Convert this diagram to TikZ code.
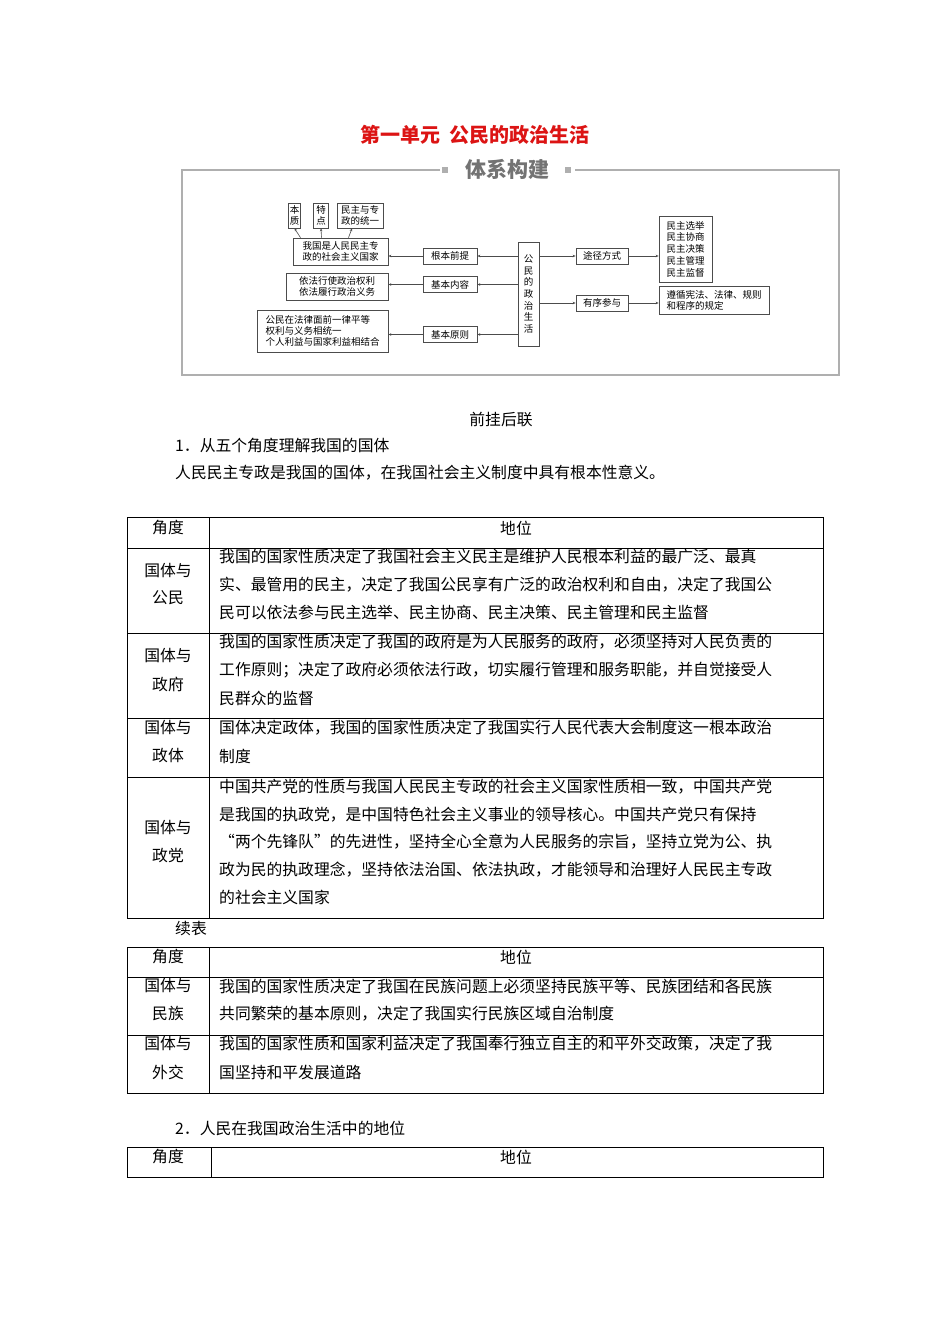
\documentclass[tikz,border=0pt]{standalone}
\usepackage{fontspec}
\setmainfont{Noto Sans CJK SC}
\usetikzlibrary{arrows.meta}
\definecolor{ttl}{RGB}{220,20,20}
\definecolor{frm}{RGB}{175,175,175}
\tikzset{
 bx/.style={draw=black!70,line width=0.7pt,inner sep=1.5pt,font=\fontsize{9.5}{11}\selectfont,align=center},
 ar/.style={draw=black!70,line width=0.6pt,-{Stealth[length=3pt,width=2.5pt]}},
 tx/.style={anchor=west,inner sep=0pt,font=\fontsize{15.8}{18}\selectfont},
 tc/.style={inner sep=0pt,font=\fontsize{15.8}{18}\selectfont},
 tl/.style={draw=black,line width=0.7pt}
}
\begin{document}
\begin{tikzpicture}[x=1pt,y=-1pt]
\useasboundingbox[fill=white] (0,0) rectangle (950,1344);
% title
\node[tc,text=ttl,font=\fontsize{20}{22}\selectfont\bfseries] (title) at (475,135) {第一单元\ \ 公民的政治生活};
% frame
\draw[frm,line width=1.2pt] (440,170) -- (182,170) -- (182,375) -- (839,375) -- (839,170) -- (575,170);
\fill[frm] (442,167) rectangle (448,173);
\fill[frm] (565,167) rectangle (571,173);
\node[tc,text=black!55,font=\fontsize{21}{23}\selectfont\bfseries] (tixi) at (507,169) {体系构建};
% diagram nodes
\node[bx,minimum width=12pt,minimum height=25pt] (bz) at (294.5,215.5) {本\\质};
\node[bx,minimum width=15pt,minimum height=25pt] (td) at (321,215.5) {特\\点};
\node[bx,minimum width=46pt,minimum height=25pt] (mz) at (360,215.5) {民主与专\\政的统一};
\node[bx,minimum width=95pt,minimum height=27pt] (wg) at (340.5,251.5) {我国是人民民主专\\政的社会主义国家};
\node[bx,minimum width=102pt,minimum height=27pt] (yf) at (337,286.5) {依法行使政治权利\\依法履行政治义务};
\node[bx,minimum width=131pt,minimum height=42pt,align=left] (gm) at (322.5,331) {公民在法律面前一律平等\\权利与义务相统一\\个人利益与国家利益相结合};
\node[bx,minimum width=54pt,minimum height=16pt] (gb) at (450,256) {根本前提};
\node[bx,minimum width=54pt,minimum height=16pt] (jn) at (450,284.5) {基本内容};
\node[bx,minimum width=54pt,minimum height=16pt] (jy) at (450,334.5) {基本原则};
\node[bx,minimum width=21pt,minimum height=104pt,font=\fontsize{9.5}{11.6}\selectfont] (gs) at (528.5,294) {公\\民\\的\\政\\治\\生\\活};
\node[bx,minimum width=52pt,minimum height=16pt] (tj) at (602,256) {途径方式};
\node[bx,minimum width=52pt,minimum height=16pt] (yx) at (602,303) {有序参与};
\node[bx,minimum width=53pt,minimum height=66pt,align=left,font=\fontsize{9.5}{11.8}\selectfont] (mx) at (685.5,249) {民主选举\\民主协商\\民主决策\\民主管理\\民主监督};
\node[bx,minimum width=110pt,minimum height=28pt,align=left] (zx) at (714,300) {遵循宪法、法律、规则\\和程序的规定};
% connectors
\draw[ar] (gs.west |- gb) -- (gb);
\draw[ar] (gs.west |- jn) -- (jn);
\draw[ar] (gs.west |- jy) -- (jy);
\draw[ar] (gb) -- (gb -| wg.east);
\draw[ar] (jn) -- (jn -| yf.east);
\draw[ar] (jy) -- (jy -| gm.east);
\draw[ar] (gs.east |- tj) -- (tj);
\draw[ar] (gs.east |- yx) -- (yx);
\draw[ar] (tj) -- (tj -| mx.west);
\draw[ar] (yx) -- (yx -| zx.west);
\draw[ar] ([xshift=-40pt]wg.north) -- (bz.south);
\draw[ar] ([xshift=-19pt]wg.north) -- (td.south);
\draw[ar] ([xshift=8pt]wg.north) -- ([xshift=-8pt]mz.south);
% text
\node[tc] (qg) at (501,420) {前挂后联};
\node[tx] (h1) at (175,446) {1．从五个角度理解我国的国体};
\node[tx] (p1) at (175,473) {人民民主专政是我国的国体，在我国社会主义制度中具有根本性意义。};
% table 1
\draw[tl] (127,517) rectangle (823,918);
\draw[tl] (209,517) -- (209,918);
\foreach \y in {548,633,718,777} \draw[tl] (127,\y) -- (823,\y);
\node[tc] (a0) at (168,528) {角度};
\node[tc] (b0) at (516,528) {地位};
\node[tc] (a1) at (168,571) {国体与};
\node[tc] (a1b) at (168,598) {公民};
\node[tx] at (219,557) {我国的国家性质决定了我国社会主义民主是维护人民根本利益的最广泛、最真};
\node[tx] at (219,585) {实、最管用的民主，决定了我国公民享有广泛的政治权利和自由，决定了我国公};
\node[tx] at (219,612) {民可以依法参与民主选举、民主协商、民主决策、民主管理和民主监督};
\node[tc] (a2) at (168,656) {国体与};
\node[tc] (a2b) at (168,684) {政府};
\node[tx] at (219,642) {我国的国家性质决定了我国的政府是为人民服务的政府，必须坚持对人民负责的};
\node[tx] at (219,670) {工作原则；决定了政府必须依法行政，切实履行管理和服务职能，并自觉接受人};
\node[tx] at (219,698) {民群众的监督};
\node[tc] (a3) at (168,728) {国体与};
\node[tc] (a3b) at (168,756) {政体};
\node[tx] at (219,728) {国体决定政体，我国的国家性质决定了我国实行人民代表大会制度这一根本政治};
\node[tx] at (219,756) {制度};
\node[tc] (a4) at (168,828) {国体与};
\node[tc] (a4b) at (168,856) {政党};
\node[tx] at (219,787) {中国共产党的性质与我国人民民主专政的社会主义国家性质相一致，中国共产党};
\node[tx] at (219,815) {是我国的执政党，是中国特色社会主义事业的领导核心。中国共产党只有保持};
\node[tx] at (219,842) {“两个先锋队”的先进性，坚持全心全意为人民服务的宗旨，坚持立党为公、执};
\node[tx] at (219,870) {政为民的执政理念，坚持依法治国、依法执政，才能领导和治理好人民民主专政};
\node[tx] at (219,897) {的社会主义国家};
\node[tx] (xb) at (175,928) {续表};
% table 2
\draw[tl] (127,947) rectangle (823,1093);
\draw[tl] (209,947) -- (209,1093);
\foreach \y in {977,1035} \draw[tl] (127,\y) -- (823,\y);
\node[tc] at (168,957) {角度};
\node[tc] at (516,957) {地位};
\node[tc] at (168,986) {国体与};
\node[tc] at (168,1014) {民族};
\node[tx] at (219,986) {我国的国家性质决定了我国在民族问题上必须坚持民族平等、民族团结和各民族};
\node[tx] at (219,1014) {共同繁荣的基本原则，决定了我国实行民族区域自治制度};
\node[tc] at (168,1044) {国体与};
\node[tc] at (168,1072) {外交};
\node[tx] at (219,1044) {我国的国家性质和国家利益决定了我国奉行独立自主的和平外交政策，决定了我};
\node[tx] at (219,1072) {国坚持和平发展道路};
\node[tx] (h2) at (175,1128) {2．人民在我国政治生活中的地位};
% table 3
\draw[tl] (127,1147) rectangle (823,1177);
\draw[tl] (211,1147) -- (211,1177);
\node[tc] at (168,1157) {角度};
\node[tc] at (516,1157) {地位};
\end{tikzpicture}
\end{document}
